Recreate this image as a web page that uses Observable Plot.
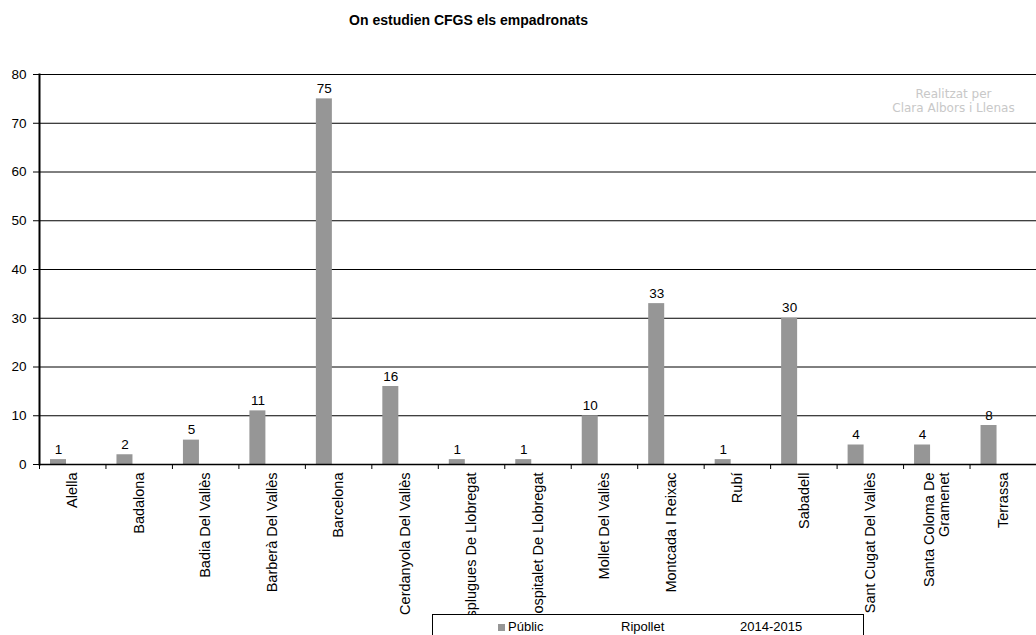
<!DOCTYPE html>
<html>
<head>
<meta charset="utf-8">
<script src="https://cdn.jsdelivr.net/npm/d3@7"></script>
<script src="https://cdn.jsdelivr.net/npm/@observablehq/plot@0.6"></script>
<style>
  html, body { margin: 0; padding: 0; background: #fff; }
  #wrap { position: relative; width: 1036px; height: 635px; overflow: hidden; font-family: "Liberation Sans", Arial, sans-serif; }
  #legend { position: absolute; left: 432px; top: 614px; width: 430px; height: 40px; border: 1px solid #000; background: #fff; font-size: 13px; color: #000; }
  #legend span { position: absolute; top: 4px; white-space: nowrap; }
  #legend .sw { position: absolute; left: 65px; top: 9px; width: 7px; height: 7px; background: #969696; }
</style>
</head>
<body>
<div id="wrap">
  <div id="chart"></div>
  <div id="legend">
    <div class="sw"></div>
    <span style="left:75px">Públic</span>
    <span style="left:188px">Ripollet</span>
    <span style="left:307px">2014-2015</span>
  </div>
</div>
<script>
const categories = ["Alella","Badalona","Badia Del Vallès","Barberà Del Vallès","Barcelona","Cerdanyola Del Vallès","Esplugues De Llobregat","L'Hospitalet De Llobregat","Mollet Del Vallès","Montcada I Reixac","Rubí","Sabadell","Sant Cugat Del Vallès","Santa Coloma De Gramenet","Terrassa"];
const values = [1,2,5,11,75,16,1,1,10,33,1,30,4,4,8];
const yTicks = [0,10,20,30,40,50,60,70,80];
const gridTicks = [10,20,30,40,50,60,70,80];
const title = "On estudien CFGS els empadronats";
const watermark = "Realitzat per\nClara Albors i Llenas";

const table = categories.map((c, i) => ({city: c, value: values[i]}));
const W = 1036, H = 635, mL = 39, mR = 0, mT = 74, mB = 171;
const bw = (W - mL - mR) / categories.length;
const labelFmt = d => d === "Santa Coloma De Gramenet" ? "Santa Coloma De\nGramenet" : d;

const chart = Plot.plot({
  width: W, height: H,
  marginLeft: mL, marginRight: mR, marginTop: mT, marginBottom: mB,
  style: {fontFamily: "'Liberation Sans', Arial, sans-serif", fontSize: "13.5px", color: "#000", background: "transparent"},
  x: {type: "band", domain: categories, padding: 0, round: false},
  y: {domain: [0, 80]},
  marks: [
    Plot.ruleY(gridTicks, {stroke: "#000", strokeWidth: 1}),
    Plot.barY(table, {x: "city", y: "value", fill: "#969696", insetLeft: 11, insetRight: bw - 27}),
    Plot.text(table, {x: "city", y: "value", text: d => String(d.value), dx: 19 - bw / 2, dy: -6, lineAnchor: "bottom", fontSize: 13.5, fill: "#000"}),
    Plot.axisY({ticks: yTicks, tickSize: 6, tickPadding: 7, label: null, fontSize: 13.5, stroke: "#000"}),
    Plot.axisX({tickSize: 0, tickRotate: -90, tickPadding: 8, label: null, tickFormat: labelFmt, fontSize: 14.5}),
    Plot.axisX({tickSize: 5, text: null, dx: -bw / 2, label: null, stroke: "#000"}),
    Plot.ruleY([0], {stroke: "#000", strokeWidth: 1.5}),
    Plot.frame({anchor: "left", stroke: "#000", strokeWidth: 2}),
    Plot.text([title], {frameAnchor: "top-left", dx: 429, dy: -54, textAnchor: "middle", lineAnchor: "middle", fontSize: 14, fontWeight: "bold", fill: "#000"}),
    Plot.text([watermark], {frameAnchor: "top-right", dx: -83, dy: 26, textAnchor: "middle", lineAnchor: "middle", fontSize: 12, lineHeight: 1.17, fill: "#c8c8c8", fontFamily: "'DejaVu Sans', sans-serif"})
  ]
});
document.getElementById("chart").appendChild(chart);
</script>
</body>
</html>
